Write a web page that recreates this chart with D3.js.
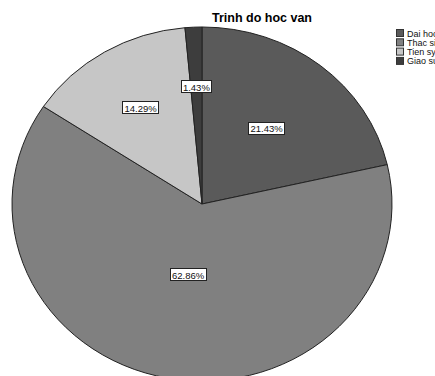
<!DOCTYPE html>
<html><head><meta charset="utf-8">
<script src="https://cdn.jsdelivr.net/npm/d3@7/dist/d3.min.js"></script>
<style>body{margin:0;background:#fff;overflow:hidden}svg{display:block}</style>
</head><body>
<svg id="c" width="435" height="376"></svg>
<script>
const categories = ["Dai hoc", "Thac si", "Tien sy", "Giao su"];
const counts = [15, 44, 10, 1];
const percentLabels = ["21.43%", "62.86%", "14.29%", "1.43%"];
const colors = ["#5a5a5a", "#808080", "#c6c6c6", "#3d3d3d"];
const title = "Trinh do hoc van";

const svg = d3.select("#c");
const cx = 202, cy = 204, rx = 190, ry = 177;
const labelFrac = [0.545, 0.41, 0.63, 0.66];

const pie = d3.pie().sort(null).value(d => d)(counts);
const arc = d3.arc().innerRadius(0).outerRadius(rx);

const g = svg.append("g").attr("transform", `translate(${cx},${cy}) scale(1,${ry/rx})`);
g.selectAll("path").data(pie).enter().append("path")
  .attr("d", arc)
  .attr("fill", (d,i) => colors[i])
  .attr("stroke", "#222")
  .attr("stroke-width", 1)
  .attr("vector-effect", "non-scaling-stroke");

// labels
const lg = svg.append("g");
pie.forEach((d,i) => {
  const a = (d.startAngle + d.endAngle)/2;
  const x = cx + Math.sin(a) * rx * labelFrac[i];
  const y = cy - Math.cos(a) * ry * labelFrac[i];
  const t = lg.append("text").attr("x", x).attr("y", y + 3.5)
    .attr("text-anchor", "middle")
    .attr("font-family", "Liberation Sans, Arial, sans-serif")
    .attr("font-size", 9.5).attr("fill", "#111")
    .text(percentLabels[i]);
  const bb = t.node().getBBox();
  lg.insert("rect", "text").attr("x", Math.round(bb.x) - 1.5).attr("y", Math.round(y) - 6.5)
    .attr("width", Math.round(bb.width) + 3).attr("height", 12)
    .attr("fill", "#fff").attr("stroke", "#222").attr("stroke-width", 1);
});

// title
svg.append("text").attr("x", 212).attr("y", 22)
  .attr("text-anchor", "start")
  .attr("font-family", "Liberation Sans, Arial, sans-serif")
  .attr("font-weight", "bold").attr("font-size", 12.5)
  .attr("fill", "#000").text(title);

// legend
const leg = svg.append("g");
categories.forEach((c,i) => {
  const y = 29.5 + i * 9.3;
  leg.append("rect").attr("x", 396.5).attr("y", y).attr("width", 7).attr("height", 7)
    .attr("fill", colors[i]).attr("stroke", "#333").attr("stroke-width", 1);
  leg.append("text").attr("x", 407).attr("y", y + 7)
    .attr("font-family", "Liberation Sans, Arial, sans-serif")
    .attr("font-size", 9).attr("fill", "#111").text(c);
});
</script>
</body></html>
